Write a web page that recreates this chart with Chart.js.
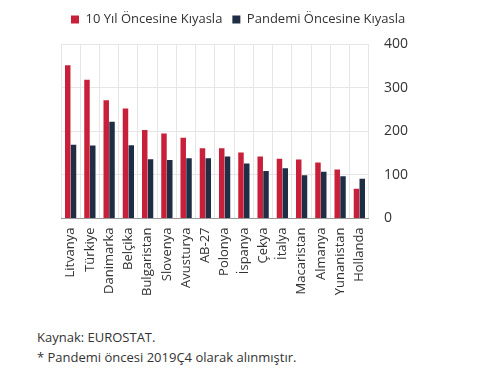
<!DOCTYPE html>
<html>
<head>
<meta charset="utf-8">
<script src="https://cdn.jsdelivr.net/npm/chart.js@4"></script>
<style>
  html, body { margin: 0; padding: 0; background: #fff; }
  #wrap { position: absolute; left: 0; top: 0; width: 489px; height: 305px; }
  .note { position: absolute; left: 37px; font: 13px "Open Sans", sans-serif; color: #333; white-space: nowrap; }
</style>
</head>
<body>
<div id="wrap"><canvas id="myChart"></canvas></div>
<div class="note" style="top:328px">Kaynak: EUROSTAT.</div>
<div class="note" style="top:348px">* Pandemi öncesi 2019Ç4 olarak alınmıştır.</div>
<script>
// ülkeler
var countries = ['Litvanya', 'Türkiye', 'Danimarka', 'Belçika', 'Bulgaristan', 'Slovenya', 'Avusturya', 'AB-27',
  'Polonya', 'İspanya', 'Çekya', 'İtalya', 'Macaristan', 'Almanya', 'Yunanistan', 'Hollanda'];

// 10 yıl öncesine kıyasla
var tenYears = [351, 318, 271, 252, 203, 195, 185, 161, 161, 151, 142, 137, 135, 128, 112, 68];

// pandemi öncesine kıyasla
var prePandemic = [169, 167, 222, 168, 136, 134, 138, 138, 142, 126, 109, 115, 99, 107, 97, 91];

var yTicks = [0, 100, 200, 300, 400];

var font = { family: '"Open Sans", sans-serif', size: 13 };

// lejant ile grafik arasına boşluk
var legendGap = {
  id: 'legendGap',
  beforeInit: function (chart) {
    var fit = chart.legend.fit;
    chart.legend.fit = function () {
      fit.bind(chart.legend)();
      this.height += 8;
    };
  }
};

var ctx = document.getElementById('myChart').getContext('2d');
var myChart = new Chart(ctx, {
  type: 'bar',
  data: {
    labels: countries,
    datasets: [
      { label: '10 Yıl Öncesine Kıyasla', data: tenYears, backgroundColor: '#c8203a' },
      { label: 'Pandemi Öncesine Kıyasla', data: prePandemic, backgroundColor: '#1f2d45' }
    ]
  },
  plugins: [legendGap],
  options: {
    responsive: true,
    maintainAspectRatio: false,
    animation: false,
    layout: { padding: { left: 61, right: 66, top: 3, bottom: 0 } },
    datasets: { bar: { categoryPercentage: 0.6, barPercentage: 0.95 } },
    plugins: {
      legend: {
        align: 'start',
        labels: { boxWidth: 8, boxHeight: 8, color: '#333', font: font, padding: 10 }
      },
      tooltip: { enabled: false }
    },
    scales: {
      x: {
        grid: { color: '#e6e6e6', drawTicks: false },
        border: { color: '#999' },
        ticks: { color: '#333', font: font, minRotation: 90, maxRotation: 90, padding: 9, autoSkip: false }
      },
      y: {
        position: 'right',
        min: 0,
        max: 400,
        afterBuildTicks: function (axis) { axis.ticks = yTicks.map(function (v) { return { value: v }; }); },
        grid: { color: '#e6e6e6', drawTicks: false },
        border: { display: false },
        ticks: { color: '#333', font: { family: '"Open Sans", sans-serif', size: 14 }, padding: 15 }
      }
    }
  }
});
</script>
</body>
</html>
